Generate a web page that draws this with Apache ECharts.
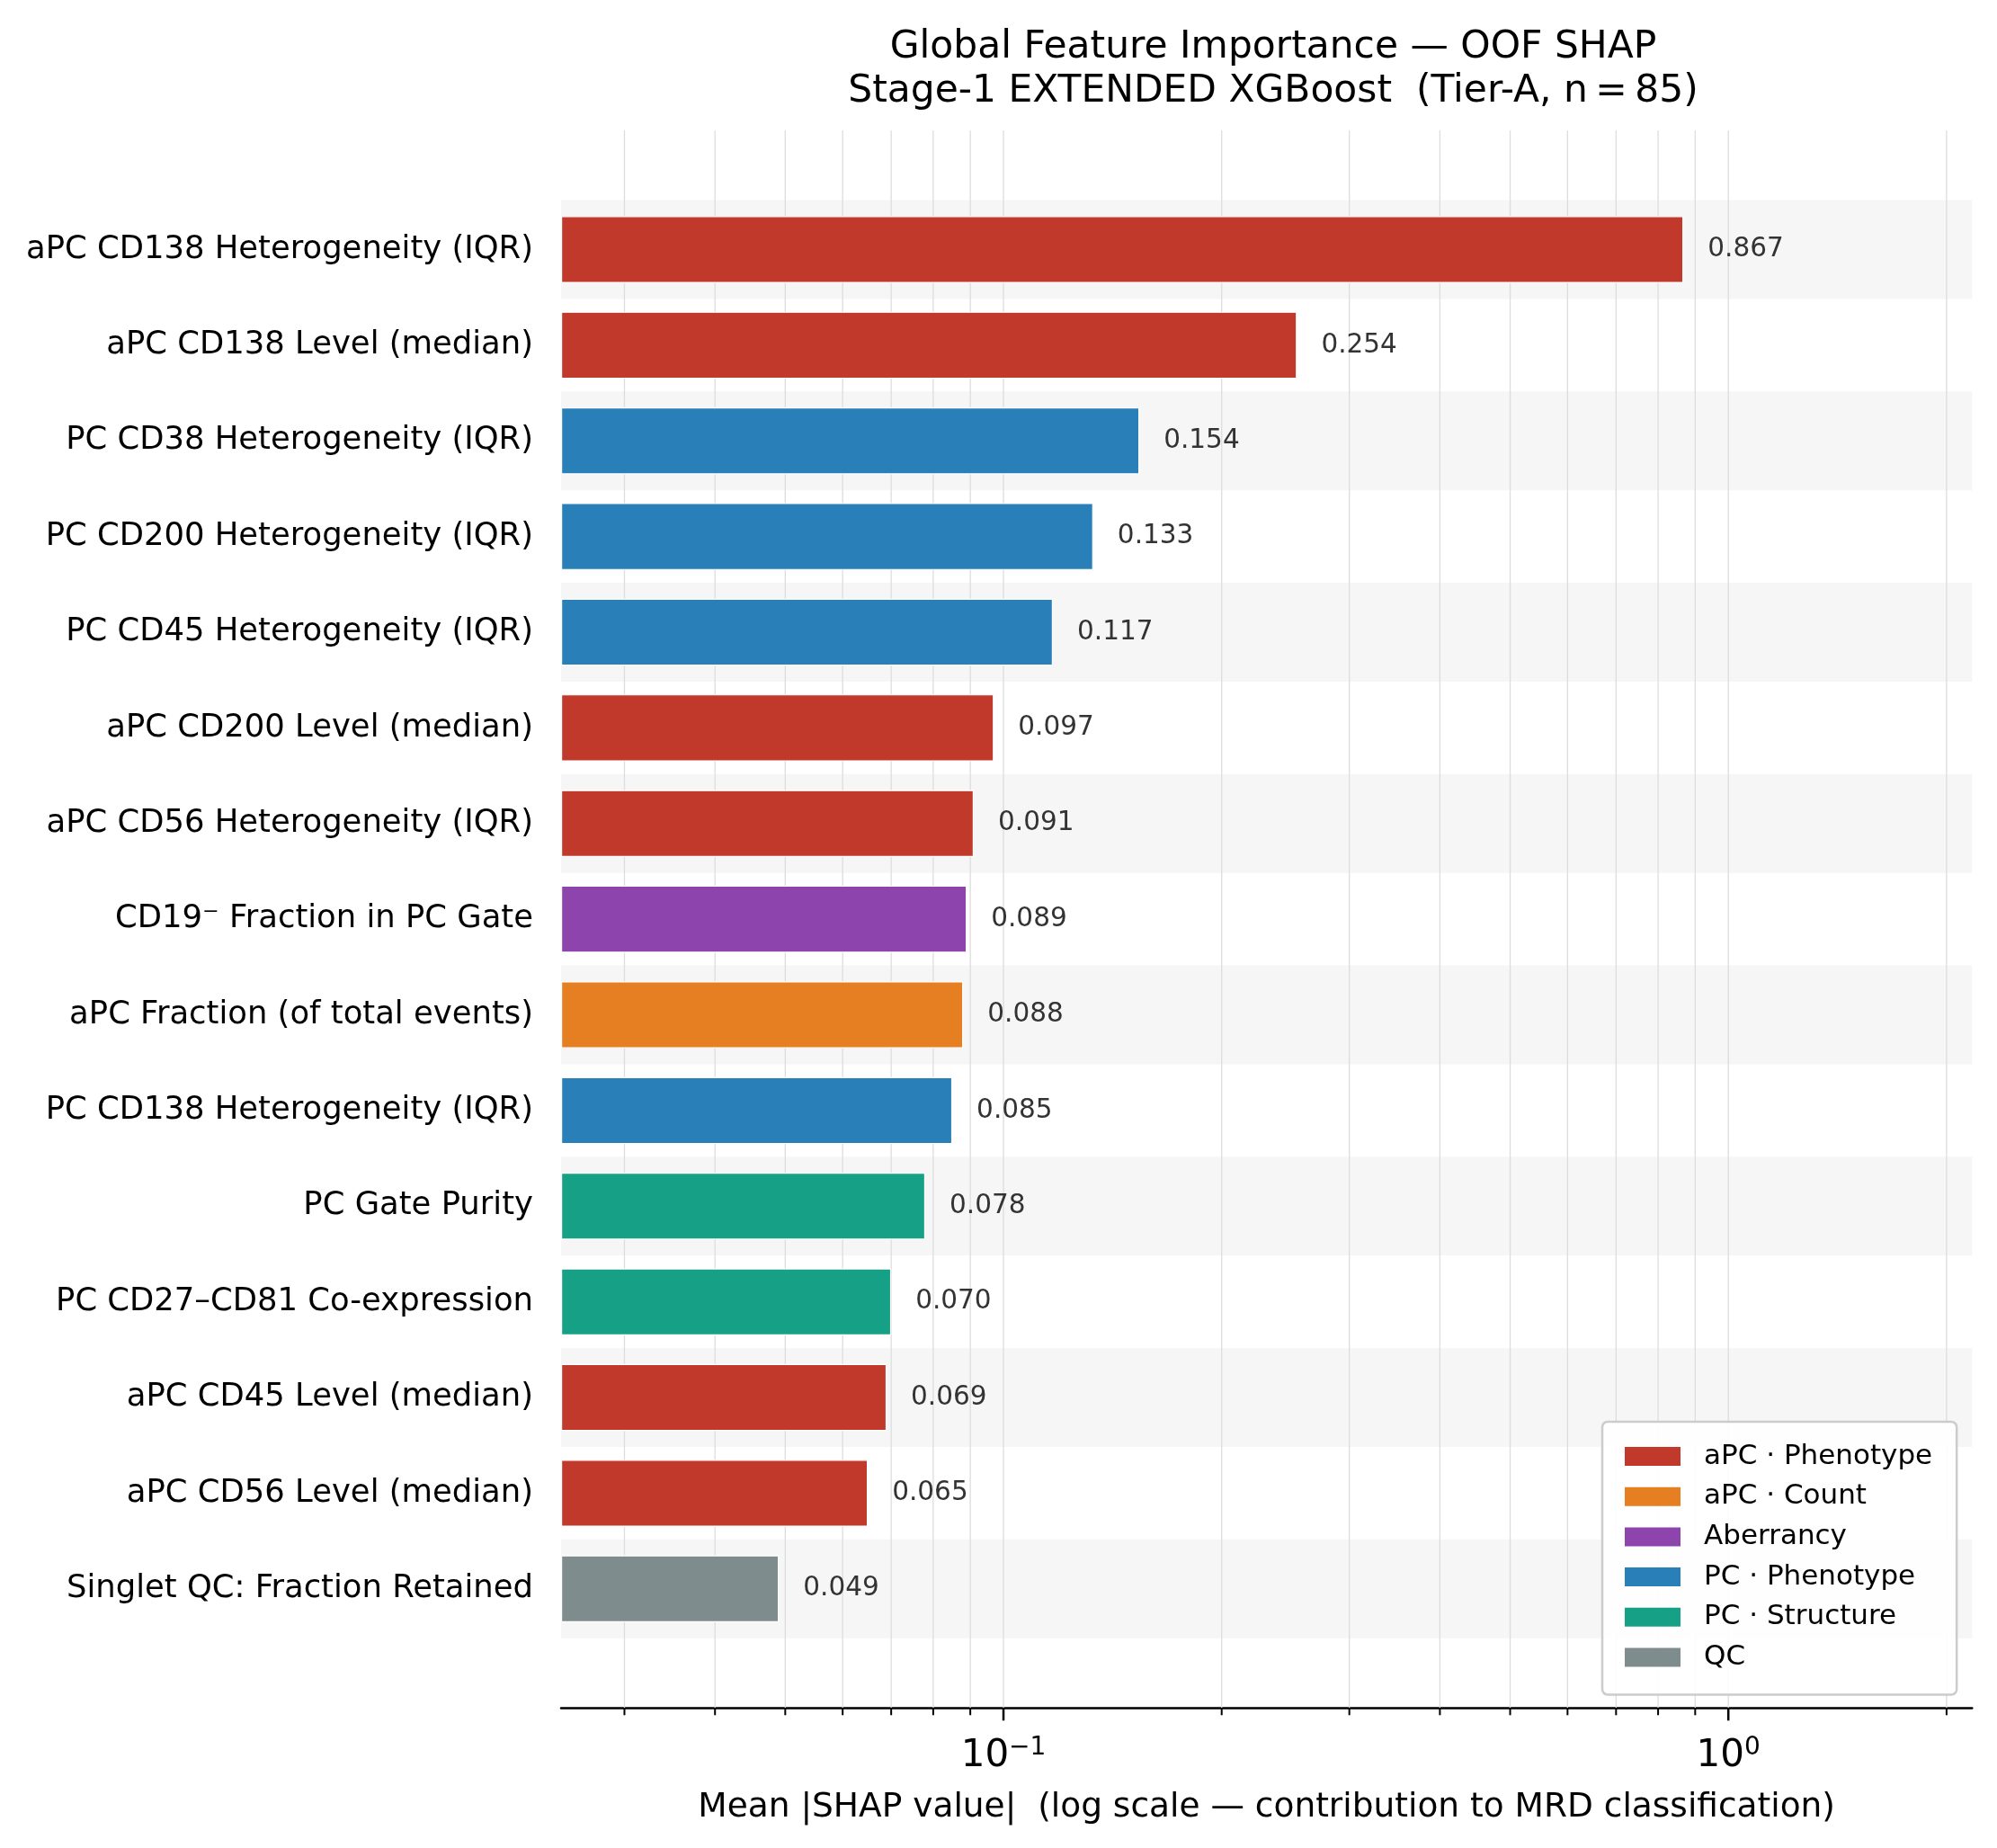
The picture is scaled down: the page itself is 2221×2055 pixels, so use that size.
<!DOCTYPE html>
<html>
<head>
<meta charset="utf-8">
<script src="https://cdn.jsdelivr.net/npm/echarts@6/dist/echarts.min.js"></script>
<style>
  html, body { margin: 0; padding: 0; background: #ffffff; }
  #chart { width: 2221px; height: 2055px; }
</style>
</head>
<body>
<div id="chart"></div>
<script>
// ---- data (top to bottom) ----
const categories = [
  'aPC CD138 Heterogeneity (IQR)',
  'aPC CD138 Level (median)',
  'PC CD38 Heterogeneity (IQR)',
  'PC CD200 Heterogeneity (IQR)',
  'PC CD45 Heterogeneity (IQR)',
  'aPC CD200 Level (median)',
  'aPC CD56 Heterogeneity (IQR)',
  'CD19\u207B Fraction in PC Gate',
  'aPC Fraction (of total events)',
  'PC CD138 Heterogeneity (IQR)',
  'PC Gate Purity',
  'PC CD27\u2013CD81 Co-expression',
  'aPC CD45 Level (median)',
  'aPC CD56 Level (median)',
  'Singlet QC: Fraction Retained'
];
const values = [0.867, 0.254, 0.154, 0.133, 0.117, 0.097, 0.091, 0.089, 0.088, 0.085, 0.078, 0.070, 0.069, 0.065, 0.049];
const groupOf = ['aPC \u00B7 Phenotype', 'aPC \u00B7 Phenotype', 'PC \u00B7 Phenotype', 'PC \u00B7 Phenotype', 'PC \u00B7 Phenotype',
  'aPC \u00B7 Phenotype', 'aPC \u00B7 Phenotype', 'Aberrancy', 'aPC \u00B7 Count', 'PC \u00B7 Phenotype',
  'PC \u00B7 Structure', 'PC \u00B7 Structure', 'aPC \u00B7 Phenotype', 'aPC \u00B7 Phenotype', 'QC'];
const groupNames = ['aPC \u00B7 Phenotype', 'aPC \u00B7 Count', 'Aberrancy', 'PC \u00B7 Phenotype', 'PC \u00B7 Structure', 'QC'];
const groupColors = ['#c0392b', '#e67e22', '#8e44ad', '#2980b9', '#16a085', '#7f8c8d'];
const majorTicks = [0.1, 1];
const minorTicks = [0.03, 0.04, 0.05, 0.06, 0.07, 0.08, 0.09, 0.2, 0.3, 0.4, 0.5, 0.6, 0.7, 0.8, 0.9, 2];
const xMin = 0.02453;
const xMax = 2.169;

// ---- layout helpers ----
const FONT = 'DejaVu Sans';
const PAD_ROWS = 1.2455;   // plot padding beyond first/last row (in rows)
const BAND_FRAC = 1.034;   // shaded band height (in rows)
const nCat = categories.length;

function rowGeom(api, xv) {
  const y0 = api.coord([xv, 0])[1];
  const y1 = api.coord([xv, 1])[1];
  const yl = api.coord([xv, nCat - 1])[1];
  const band = y1 - y0;
  return { y0, yl, band };
}

const chart = echarts.init(document.getElementById('chart'), null, { renderer: 'canvas' });

const barSeries = groupNames.map((g, gi) => ({
  type: 'bar',
  name: g,
  z: 5,
  barWidth: '70%',
  barGap: '-100%',
  itemStyle: { color: groupColors[gi], borderColor: '#ffffff', borderWidth: 1.2 },
  label: {
    show: true,
    position: 'right',
    distance: 27,
    fontFamily: FONT,
    fontSize: 29.5,
    color: '#333333',
    padding: [5, 0, 0, 0],
    formatter: p => Number(p.value).toFixed(3)
  },
  emphasis: { disabled: true },
  data: values.map((v, i) => (groupOf[i] === g ? v : '-'))
}));

const bandRows = categories.map((c, i) => i).filter(i => i % 2 === 0);

const option = {
  animation: false,
  textStyle: { fontFamily: FONT },
  title: {
    text: 'Global Feature Importance \u2014 OOF SHAP\nStage-1 EXTENDED XGBoost  (Tier-A, n\u2009=\u200985)',
    left: 1416,
    top: 29,
    padding: 0,
    textAlign: 'center',
    textStyle: { fontFamily: FONT, fontSize: 42.4, fontWeight: 'normal', color: '#000000', lineHeight: 48.4 }
  },
  legend: {
    data: groupNames,
    orient: 'vertical',
    left: 1782,
    top: 1581,
    itemWidth: 62,
    itemHeight: 21,
    itemGap: 13.7,
    icon: 'rect',
    padding: [23, 27, 26, 25],
    backgroundColor: 'rgba(255,255,255,0.9)',
    borderColor: '#cccccc',
    borderWidth: 2.5,
    borderRadius: 6,
    itemStyle: { borderWidth: 0 },
    textStyle: { fontFamily: FONT, fontSize: 31, color: '#000000', padding: [0, 0, 0, 21] },
    selectedMode: false
  },
  grid: {
    left: 624,
    right: 27.7,
    top: 224.3,
    bottom: 235,
    containLabel: false,
    outerBoundsMode: 'none'
  },
  xAxis: {
    type: 'log',
    logBase: 10,
    min: xMin,
    max: xMax,
    startValue: xMin,
    offset: 79.3,
    name: 'Mean |SHAP value|  (log scale \u2014 contribution to MRD classification)',
    nameLocation: 'middle',
    nameGap: 92,
    nameTextStyle: { fontFamily: FONT, fontSize: 37.5, color: '#000000' },
    axisLine: { show: true, lineStyle: { color: '#000000', width: 2.5 } },
    axisTick: { show: false },
    splitLine: { show: false },
    minorTick: { show: false },
    minorSplitLine: { show: false },
    axisLabel: {
      show: true,
      margin: 30,
      showMinLabel: false,
      showMaxLabel: false,
      hideOverlap: false,
      formatter: function (v) {
        const e = Math.log10(v);
        const r = Math.round(e);
        if (Math.abs(e - r) > 1e-6) return '';
        if (majorTicks.every(m => Math.abs(Math.log10(m) - r) > 1e-6)) return '';
        const exp = r < 0 ? '\u2212' + Math.abs(r) : String(r);
        return '{b|10}{s|' + exp + '}';
      },
      rich: {
        b: { fontFamily: FONT, fontSize: 42, lineHeight: 47, color: '#000000' },
        s: { fontFamily: FONT, fontSize: 28, lineHeight: 28, verticalAlign: 'top', color: '#000000' }
      }
    }
  },
  yAxis: {
    type: 'category',
    data: categories,
    inverse: true,
    axisLine: { show: false },
    axisTick: { show: false },
    splitLine: { show: false },
    axisLabel: { fontFamily: FONT, fontSize: 35.4, color: '#000000', margin: 31, padding: [10, 0, 0, 0] }
  },
  series: [
    {
      type: 'custom',
      name: 'bands',
      z: 1,
      silent: true,
      clip: false,
      encode: { x: 0, y: 1 },
      data: bandRows.map(r => [xMax, r]),
      renderItem: function (params, api) {
        const g = rowGeom(api, xMax);
        const cy = api.coord([xMax, api.value(1)])[1];
        const cs = params.coordSys;
        return {
          type: 'rect',
          shape: { x: cs.x, y: cy - g.band * BAND_FRAC / 2, width: cs.width, height: g.band * BAND_FRAC },
          style: { fill: '#f6f6f6' }
        };
      }
    },
    {
      type: 'custom',
      name: 'gridlines',
      z: 2,
      silent: true,
      clip: false,
      encode: { x: 0, y: 1 },
      data: minorTicks.concat(majorTicks).map(v => [v, 0]),
      renderItem: function (params, api) {
        const xv = api.value(0);
        const g = rowGeom(api, xv);
        const x = api.coord([xv, 0])[0];
        return {
          type: 'line',
          shape: { x1: x, y1: g.y0 - g.band * PAD_ROWS, x2: x, y2: g.yl + g.band * PAD_ROWS },
          style: { stroke: '#dddddd', lineWidth: 1.3 }
        };
      }
    },
    {
      type: 'custom',
      name: 'minorTicks',
      z: 6,
      silent: true,
      clip: false,
      encode: { x: 0, y: 1 },
      data: minorTicks.map(v => [v, 0]),
      renderItem: function (params, api) {
        const xv = api.value(0);
        const g = rowGeom(api, xv);
        const x = api.coord([xv, 0])[0];
        const ay = g.yl + g.band * PAD_ROWS;
        return {
          type: 'line',
          shape: { x1: x, y1: ay, x2: x, y2: ay + 8 },
          style: { stroke: '#000000', lineWidth: 2 }
        };
      }
    },
    {
      type: 'custom',
      name: 'majorTicks',
      z: 6,
      silent: true,
      clip: false,
      encode: { x: 0, y: 1 },
      data: majorTicks.map(v => [v, 0]),
      renderItem: function (params, api) {
        const xv = api.value(0);
        const g = rowGeom(api, xv);
        const x = api.coord([xv, 0])[0];
        const ay = g.yl + g.band * PAD_ROWS;
        return {
          type: 'line',
          shape: { x1: x, y1: ay, x2: x, y2: ay + 14 },
          style: { stroke: '#000000', lineWidth: 2.5 }
        };
      }
    }
  ].concat(barSeries)
};

chart.setOption(option);
</script>
</body>
</html>
